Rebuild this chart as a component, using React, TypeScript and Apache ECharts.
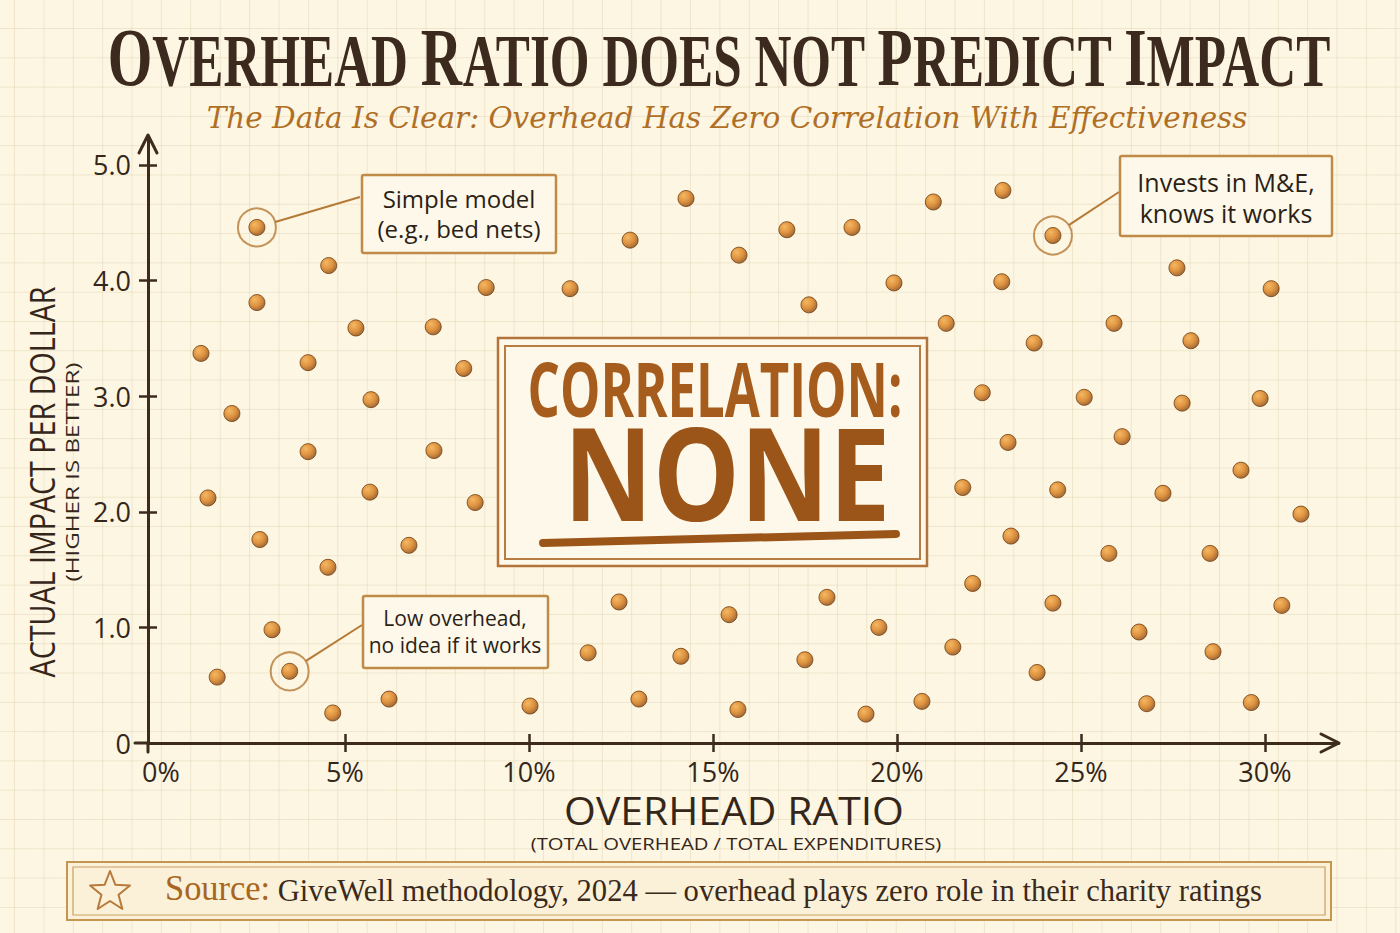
import { useEffect, useRef } from "react";
import * as echarts from "echarts";

// Overhead ratio (% of total expenditures) for each charity
const overheadPct = [
  2.61, 4.56, 8.84, 2.61, 5.3, 7.4, 1.09, 4.0, 8.23, 5.71, 1.93, 4.0, 7.42, 1.28, 5.68, 8.54, 2.69, 6.74, 4.54, 3.02, 1.53, 3.5, 6.2, 4.67,
  14.27, 12.75, 11.12, 15.71, 17.01, 18.78, 17.61, 19.92, 20.99, 12.45, 15.44, 18.1, 19.51, 11.61, 14.13, 17.5, 10.03, 12.99, 15.68, 19.16, 20.68,
  22.88, 24.24, 27.61, 22.85, 30.17, 21.34, 25.9, 23.73, 27.99, 22.32, 25.09, 27.75, 29.87, 23.02, 26.12, 29.35, 21.79, 24.37, 27.23, 30.98, 23.1,
  25.76, 28.51, 22.06, 24.24, 30.46, 26.58, 21.52, 28.59, 23.81, 26.79, 29.63,
];
// Actual impact per dollar for the same charities
const impactPerDollar = [
  4.46, 4.13, 3.94, 3.81, 3.59, 3.6, 3.37, 3.29, 3.24, 2.97, 2.85, 2.52, 2.53, 2.12, 2.17, 2.08, 1.76, 1.71, 1.52, 0.98, 0.57, 0.62, 0.38, 0.26,
  4.71, 4.35, 3.93, 4.22, 4.44, 4.46, 3.79, 3.98, 4.68, 1.22, 1.11, 1.26, 1.0, 0.78, 0.75, 0.72, 0.32, 0.38, 0.29, 0.25, 0.36,
  4.78, 4.39, 4.11, 3.99, 3.93, 3.63, 3.63, 3.46, 3.48, 3.03, 2.99, 2.94, 2.98, 2.6, 2.65, 2.36, 2.21, 2.19, 2.16, 1.98, 1.79,
  1.64, 1.64, 1.38, 1.21, 1.19, 0.96, 0.83, 0.79, 0.61, 0.34, 0.35,
];
const xLabelValues = [0, 5, 10, 15, 20, 25, 30];
const xTickValues = [5, 10, 15, 20, 25, 30];
const yLabelValues = [0, 1, 2, 3, 4, 5];
const yTickValues = [1, 2, 3, 4, 5];

// Charities singled out with a note
const calloutIndex = [0, 21, 46];
const calloutText = [
  "Simple model\n(e.g., bed nets)",
  "Low overhead,\nno idea if it works",
  "Invests in M&E,\nknows it works",
];

const TITLE_PARTS: [string, "b" | "s"][] = [
  ["O", "b"], ["VERHEAD ", "s"], ["R", "b"], ["ATIO DOES NOT ", "s"],
  ["P", "b"], ["REDICT ", "s"], ["I", "b"], ["MPACT", "s"],
];
const SUBTITLE = "The Data Is Clear: Overhead Has Zero Correlation With Effectiveness";
const SOURCE_LEAD = "Source:";
const SOURCE_BODY = " GiveWell methodology, 2024 \u2014 overhead plays zero role in their charity ratings";

const SERIF = '"Liberation Serif"';
const SERIF_WIDE = '"DejaVu Serif"';
const HAND = '"Open Sans"';
const INK = "#35261a";
const AXIS = "#3d2b1c";
const RUST = "#a65c1c";
const TAN = "#c08a48";

// callout box geometry: box rect, where the leader line meets it, text block
const calloutLayout = [
  { x: 362, y: 175, w: 194, h: 78, ax: 360, ay: 197, tx: 459, ty: 213, fs: 24, lh: 30 },
  { x: 363, y: 596, w: 185, h: 72, ax: 362, ay: 625, tx: 455, ty: 631, fs: 21, lh: 27 },
  { x: 1120, y: 156, w: 212, h: 80, ax: 1119, ay: 192, tx: 1226, ty: 197, fs: 25, lh: 31 },
];

const ctx = document.createElement("canvas").getContext("2d")!;
function textWidth(text: string, font: string) {
  ctx.font = font;
  return ctx.measureText(text).width;
}

function starPoints(cx: number, cy: number, R: number, r: number) {
  const pts: number[][] = [];
  for (let k = 0; k < 10; k++) {
    const rad = k % 2 === 0 ? R : r;
    const a = -Math.PI / 2 + (k * Math.PI) / 5;
    pts.push([cx + rad * Math.cos(a), cy + rad * Math.sin(a)]);
  }
  return pts;
}

function baseOption(): any {
  const dotFill = new echarts.graphic.RadialGradient(0.36, 0.32, 0.72, [
    { offset: 0, color: "#f4a843" },
    { offset: 0.55, color: "#d67a17" },
    { offset: 1, color: "#8a450c" },
  ]);
  const tickStyle = { color: AXIS, width: 2.5 };
  const xAxisBase = {
    type: "value", min: -0.35, max: 32, position: "bottom",
    splitLine: { show: false },
  };
  const yAxisBase = {
    type: "value", min: 0, max: 5.23, position: "left",
    splitLine: { show: false },
  };
  return {
    animation: false,
    backgroundColor: "transparent",
    grid: { left: 148, right: 61.5, top: 138.4, bottom: 190, outerBoundsMode: "none" },
    xAxis: [
      {
        ...xAxisBase,
        axisLine: { show: true, onZero: false, lineStyle: { color: AXIS, width: 3 } },
        axisTick: { show: true, length: 9, lineStyle: tickStyle, customValues: xTickValues },
        axisLabel: {
          customValues: xLabelValues, formatter: (v: number) => `${v}%`,
          fontFamily: HAND, fontSize: 27, color: INK, margin: 15,
        },
      },
      {
        ...xAxisBase,
        axisLine: { show: false, onZero: false },
        axisTick: { show: true, inside: true, length: 9, lineStyle: tickStyle, customValues: xTickValues },
        axisLabel: { show: false },
      },
    ],
    yAxis: [
      {
        ...yAxisBase,
        axisLine: { show: true, onZero: false, lineStyle: { color: AXIS, width: 3 } },
        axisTick: { show: true, length: 9, lineStyle: tickStyle, customValues: yTickValues },
        axisLabel: {
          customValues: yLabelValues, formatter: (v: number) => (v === 0 ? "0" : v.toFixed(1)),
          fontFamily: HAND, fontSize: 27, color: INK, margin: 17,
        },
      },
      {
        ...yAxisBase,
        axisLine: { show: false, onZero: false },
        axisTick: { show: true, inside: true, length: 9, lineStyle: tickStyle, customValues: yTickValues },
        axisLabel: { show: false },
      },
    ],
    series: [
      {
        name: "Highlighted",
        type: "scatter",
        xAxisIndex: 0, yAxisIndex: 0,
        data: calloutIndex.map((i) => [overheadPct[i], impactPerDollar[i]]),
        symbol: "circle",
        symbolSize: 38,
        silent: true,
        z: 2,
        itemStyle: { color: "rgba(0,0,0,0)", borderColor: "#b57a36", borderWidth: 2 },
      },
      {
        name: "Charities",
        type: "scatter",
        xAxisIndex: 0, yAxisIndex: 0,
        data: overheadPct.map((x, i) => [x, impactPerDollar[i]]),
        symbol: "circle",
        symbolSize: 16,
        z: 3,
        itemStyle: { color: dotFill, borderColor: "#6e3c0e", borderWidth: 1 },
      },
    ],
  };
}

function buildGraphics(px: (i: number) => number[]) {
  const els: any[] = [];

  // headline with small caps
  const bigFont = `bold 83px ${SERIF}`;
  const smFont = `bold 74px ${SERIF}`;
  const titleW = TITLE_PARTS.reduce((s, [t, k]) => s + textWidth(t, k === "b" ? bigFont : smFont), 0);
  els.push({
    type: "text", x: 719, y: 70, scaleX: 1222 / titleW, z: 20,
    style: {
      text: TITLE_PARTS.map(([t, k]) => `{${k}|${t}}`).join(""),
      align: "center", verticalAlign: "middle",
      rich: {
        b: { fontFamily: SERIF, fontWeight: "bold", fontSize: 83, lineHeight: 56, verticalAlign: "bottom", fill: "#3b2a1d" },
        s: { fontFamily: SERIF, fontWeight: "bold", fontSize: 74, lineHeight: 50, verticalAlign: "bottom", fill: "#3b2a1d" },
      },
    },
  });
  const subFont = `italic 30px ${SERIF_WIDE}`;
  els.push({
    type: "text", x: 727, y: 117, scaleX: 1041 / textWidth(SUBTITLE, subFont), z: 20,
    style: {
      text: SUBTITLE, fontFamily: SERIF_WIDE, fontStyle: "italic", fontSize: 30,
      fill: "#b06f26", align: "center", verticalAlign: "middle",
    },
  });

  // axis titles
  const yTitle = "ACTUAL IMPACT PER DOLLAR";
  const yTitleFont = `34px ${HAND}`;
  els.push({
    type: "text", x: 41, y: 482, rotation: Math.PI / 2, scaleX: 391 / textWidth(yTitle, yTitleFont), z: 20,
    style: { text: yTitle, fontFamily: HAND, fontSize: 34, fill: INK, align: "center", verticalAlign: "middle" },
  });
  const ySub = "(HIGHER IS BETTER)";
  const ySubFont = `19px ${HAND}`;
  els.push({
    type: "text", x: 72, y: 472, rotation: Math.PI / 2, scaleX: 219 / textWidth(ySub, ySubFont), z: 20,
    style: { text: ySub, fontFamily: HAND, fontSize: 19, fill: INK, align: "center", verticalAlign: "middle" },
  });
  const xTitle = "OVERHEAD RATIO";
  const xTitleFont = `39px ${HAND}`;
  els.push({
    type: "text", x: 734, y: 810, scaleX: 340 / textWidth(xTitle, xTitleFont), z: 20,
    style: { text: xTitle, fontFamily: HAND, fontSize: 39, fill: INK, align: "center", verticalAlign: "middle" },
  });
  const xSub = "(TOTAL OVERHEAD / TOTAL EXPENDITURES)";
  const xSubFont = `17px ${HAND}`;
  els.push({
    type: "text", x: 736, y: 843, scaleX: 411 / textWidth(xSub, xSubFont), z: 20,
    style: { text: xSub, fontFamily: HAND, fontSize: 17, fill: INK, align: "center", verticalAlign: "middle" },
  });

  // arrowheads and small overshoots at the origin
  const axisStroke = { stroke: AXIS, lineWidth: 3, fill: "none", lineCap: "round", lineJoin: "round" };
  els.push({ type: "polyline", z: 20, shape: { points: [[139, 153], [148, 135], [157, 153]] }, style: axisStroke });
  els.push({ type: "polyline", z: 20, shape: { points: [[1321, 734], [1339, 743], [1321, 752]] }, style: axisStroke });
  els.push({ type: "line", z: 20, shape: { x1: 135, y1: 743, x2: 148, y2: 743 }, style: axisStroke });
  els.push({ type: "line", z: 20, shape: { x1: 148, y1: 743, x2: 148, y2: 752 }, style: axisStroke });

  // central verdict box
  els.push({ type: "rect", z: 15, shape: { x: 498, y: 338, width: 429, height: 228 }, style: { fill: "#fdf8e9", stroke: "#b3733a", lineWidth: 2.5 } });
  els.push({ type: "rect", z: 16, shape: { x: 505, y: 346, width: 415, height: 213 }, style: { fill: "none", stroke: "#b97c40", lineWidth: 2 } });
  const corr = "CORRELATION:";
  const corrFont = `bold 75px ${HAND}`;
  els.push({
    type: "text", x: 715, y: 388, scaleX: 375 / textWidth(corr, corrFont), z: 20,
    style: { text: corr, fontFamily: HAND, fontWeight: "bold", fontSize: 75, fill: RUST, align: "center", verticalAlign: "middle" },
  });
  const none = "NONE";
  const noneFont = `bold 130px ${HAND}`;
  els.push({
    type: "text", x: 727, y: 470, scaleX: 327 / textWidth(none, noneFont), z: 20,
    style: { text: none, fontFamily: HAND, fontWeight: "bold", fontSize: 130, fill: "#9c5519", align: "center", verticalAlign: "middle" },
  });
  els.push({
    type: "line", z: 20, shape: { x1: 543, y1: 543, x2: 896, y2: 534 },
    style: { stroke: "#9c5519", lineWidth: 8, lineCap: "round" },
  });

  // callouts with leader lines to their charities
  calloutLayout.forEach((b, k) => {
    const p = px(calloutIndex[k]);
    const dx = b.ax - p[0];
    const dy = b.ay - p[1];
    const len = Math.hypot(dx, dy);
    els.push({
      type: "line", z: 18,
      shape: { x1: p[0] + (dx / len) * 19, y1: p[1] + (dy / len) * 19, x2: b.ax, y2: b.ay },
      style: { stroke: "#b57a36", lineWidth: 2 },
    });
    els.push({
      type: "rect", z: 18, shape: { x: b.x, y: b.y, width: b.w, height: b.h, r: 2 },
      style: { fill: "#fdf8e9", stroke: TAN, lineWidth: 2.5 },
    });
    els.push({
      type: "text", x: b.tx, y: b.ty, z: 20,
      style: {
        text: calloutText[k], fontFamily: HAND, fontSize: b.fs, lineHeight: b.lh,
        fill: "#2b1f16", align: "center", verticalAlign: "middle",
      },
    });
  });

  // source footer
  els.push({ type: "rect", z: 15, shape: { x: 67, y: 862, width: 1264, height: 58 }, style: { fill: "#faf1d8", stroke: "#c4964f", lineWidth: 2 } });
  els.push({ type: "rect", z: 16, shape: { x: 73, y: 867, width: 1252, height: 48 }, style: { fill: "none", stroke: "#c9a063", lineWidth: 1.2 } });
  els.push({
    type: "polygon", z: 20, shape: { points: starPoints(110, 892, 21, 9) },
    style: { fill: "none", stroke: "#b8793a", lineWidth: 2, lineJoin: "round" },
  });
  const leadFont = `36px ${SERIF}`;
  const bodyFont = `32px ${SERIF}`;
  const srcW = textWidth(SOURCE_LEAD, leadFont) + textWidth(SOURCE_BODY, bodyFont);
  els.push({
    type: "text", x: 165, y: 896, scaleX: 1097 / srcW, z: 20,
    style: {
      text: `{a|${SOURCE_LEAD}}{b|${SOURCE_BODY}}`,
      align: "left", verticalAlign: "middle",
      rich: {
        a: { fontFamily: SERIF, fontSize: 36, lineHeight: 20, verticalAlign: "bottom", fill: "#a8651f" },
        b: { fontFamily: SERIF, fontSize: 32, lineHeight: 21.3, verticalAlign: "bottom", fill: "#3a2a1c" },
      },
    },
  });
  return els;
}

export default function App() {
  const ref = useRef<HTMLDivElement>(null);
  useEffect(() => {
    const chart = echarts.init(ref.current!, null, { renderer: "svg" });
    chart.setOption(baseOption());
    const px = (i: number) =>
      chart.convertToPixel({ seriesIndex: 1 }, [overheadPct[i], impactPerDollar[i]]) as number[];
    chart.setOption({ graphic: buildGraphics(px) });
    return () => chart.dispose();
  }, []);
  return (
    <div
      ref={ref}
      style={{
        position: "fixed",
        left: 0,
        top: 0,
        width: 1400,
        height: 933,
        backgroundColor: "#fcf6e3",
        backgroundImage:
          "linear-gradient(to right, rgba(196,170,120,0.22) 1px, transparent 1px), linear-gradient(to bottom, rgba(196,170,120,0.22) 1px, transparent 1px)",
        backgroundSize: "29.4px 29.3px",
        backgroundPosition: "14px 28px",
      }}
    />
  );
}
